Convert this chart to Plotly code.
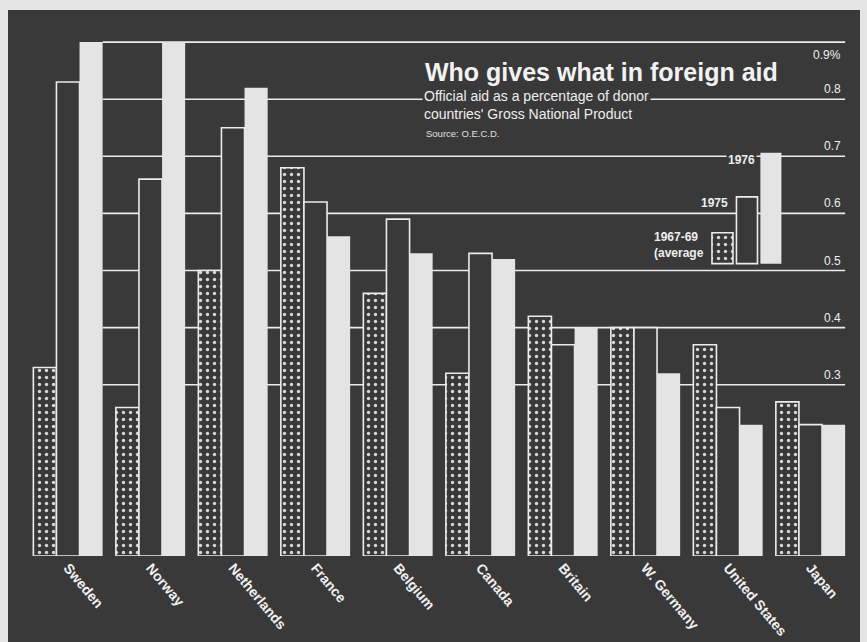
import plotly.graph_objects as go

# ---- data ----
countries = ["Sweden", "Norway", "Netherlands", "France", "Belgium",
             "Canada", "Britain", "W. Germany", "United States", "Japan"]
avg_1967_69 = [0.33, 0.26, 0.50, 0.68, 0.46, 0.32, 0.42, 0.40, 0.37, 0.27]
aid_1975 = [0.83, 0.66, 0.75, 0.62, 0.59, 0.53, 0.37, 0.40, 0.26, 0.23]
aid_1976 = [0.90, 0.90, 0.82, 0.56, 0.53, 0.52, 0.40, 0.32, 0.23, 0.23]
grid_values = [0.3, 0.4, 0.5, 0.6, 0.7, 0.8, 0.9]
grid_labels = ["0.3", "0.4", "0.5", "0.6", "0.7", "0.8", "0.9%"]
series_names = ["1967-69 average", "1975", "1976"]
legend_values = [0.566, 0.629, 0.706]   # swatch tops in the inset key
legend_base = 0.512
legend_labels = ["1967-69<br>(average", "1975", "1976"]

# ---- styling ----
DARK = "#393939"
LIGHT = "#e4e4e4"
LINE = "#ececec"
FONT = "Liberation Sans"

W, H = 867, 642
ML, MR, MT, MB = 8, 19, 10, 86
BW = 0.28
offsets = [-0.42, -0.14, 0.14]
x = list(range(len(countries)))

fig = go.Figure()

def bar_style(kind):
    if kind == 0:
        return dict(color=DARK, line=dict(color=LINE, width=1.6),
                    pattern=dict(shape=".", fgcolor="#d8d8d8", bgcolor=DARK,
                                 size=7, solidity=0.18, fillmode="replace"))
    if kind == 1:
        return dict(color=DARK, line=dict(color=LINE, width=1.6))
    return dict(color=LIGHT, line=dict(color=LIGHT, width=0))

for k, vals in enumerate([avg_1967_69, aid_1975, aid_1976]):
    fig.add_trace(go.Bar(x=x, y=vals, name=series_names[k], width=BW,
                         offset=offsets[k], marker=bar_style(k),
                         showlegend=False, hoverinfo="skip"))

# inset key swatches
LEG_X = [7.933, 8.23, 8.52]
LEG_W = 0.255
for k in range(3):
    fig.add_trace(go.Bar(x=[LEG_X[k]], y=[legend_values[k] - legend_base],
                         base=[legend_base], width=LEG_W, offset=-LEG_W / 2,
                         marker=bar_style(k), showlegend=False, hoverinfo="skip"))

pw = W - ML - MR
ph = H - MT - MB

shapes = []
# dark board
shapes.append(dict(type="rect", xref="paper", yref="paper",
                   x0=0, x1=(860 - ML) / pw,
                   y0=-(MB + 2) / ph, y1=1,
                   fillcolor=DARK, line=dict(width=0), layer="below"))
X_RIGHT = 9.42
for v in grid_values:
    shapes.append(dict(type="line", xref="x", yref="y", x0=0.42, x1=X_RIGHT,
                       y0=v, y1=v, line=dict(color=LINE, width=1.6), layer="below"))

annotations = []
for v, lab in zip(grid_values, grid_labels):
    top = lab.endswith("%")
    annotations.append(dict(x=X_RIGHT, y=v, xref="x", yref="y", text=lab,
                            showarrow=False, xanchor="right",
                            yanchor="top" if top else "bottom",
                            yshift=-4 if top else 1, xshift=-2,
                            font=dict(family=FONT, size=12, color="#eeeeee")))

def px(xp):
    return (xp - ML) / pw
def py(yp):
    return (H - MB - yp) / ph

annotations.append(dict(x=px(423), y=py(72), xref="paper", yref="paper",
                        text="<b>Who gives what in foreign aid</b>", showarrow=False,
                        xanchor="left", yanchor="middle",
                        font=dict(family=FONT, size=25, color="#f2f2f2")))
annotations.append(dict(x=px(422), y=py(105), xref="paper", yref="paper",
                        text="Official aid as a percentage of donor<br>countries' Gross National Product",
                        showarrow=False, xanchor="left", yanchor="middle", align="left",
                        bgcolor=DARK, borderpad=1,
                        font=dict(family=FONT, size=14, color="#eeeeee")))
annotations.append(dict(x=px(424), y=py(133), xref="paper", yref="paper",
                        text="Source: O.E.C.D.", showarrow=False,
                        xanchor="left", yanchor="middle",
                        font=dict(family=FONT, size=9.5, color="#e0e0e0")))

# inset key labels
leg_label_y = [0.545, 0.618, 0.694]
leg_shift = [-6, -6, -3]
for k in range(3):
    annotations.append(dict(x=LEG_X[k] - LEG_W / 2, y=leg_label_y[k], xref="x", yref="y",
                            text="<b>" + legend_labels[k] + "</b>", showarrow=False,
                            xanchor="right", yanchor="middle", align="left",
                            xshift=leg_shift[k], bgcolor=DARK if k == 2 else None,
                            borderpad=1,
                            font=dict(family=FONT, size=12, color="#eeeeee")))

fig.update_layout(
    width=W, height=H,
    margin=dict(l=ML, r=MR, t=MT, b=MB, autoexpand=False),
    paper_bgcolor=LIGHT, plot_bgcolor=DARK,
    barmode="overlay",
    shapes=shapes, annotations=annotations,
    xaxis=dict(range=[(8 - 68) / 82.5, (848 - 68) / 82.5], tickvals=x, ticktext=countries,
               tickangle=50, showgrid=False, zeroline=False, showline=False,
               automargin=False,
               ticks="", tickfont=dict(family=FONT, size=14, color="#f0f0f0", weight="bold")),
    yaxis=dict(range=[0, ph / 571], showgrid=False, zeroline=False, showline=False,
               showticklabels=False, ticks="", automargin=False),
)

fig.write_html("out.html")
